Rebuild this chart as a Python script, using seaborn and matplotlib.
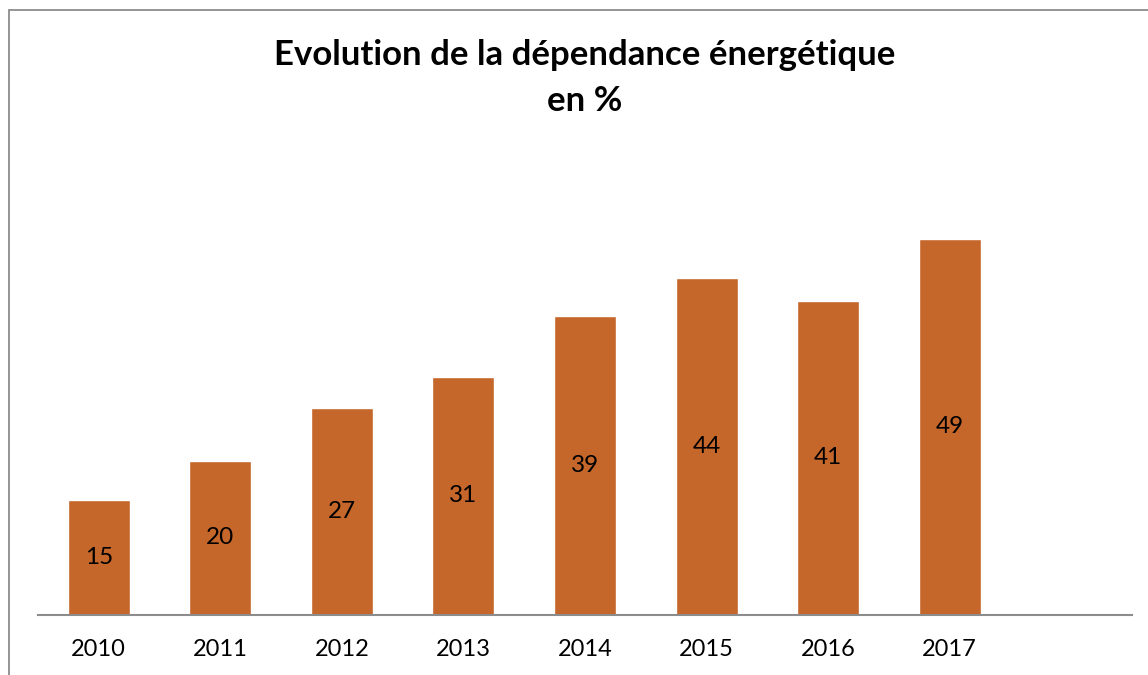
import matplotlib
matplotlib.use("Agg")
import matplotlib.pyplot as plt
import matplotlib.patches as mpatches
import seaborn as sns
import pandas as pd

years = ["2010", "2011", "2012", "2013", "2014", "2015", "2016", "2017"]
dependance = [15, 20, 27, 31, 39, 44, 41, 49]

title_line1 = "Evolution de la dépendance énergétique"
title_line2 = "en %"

bar_color = "#C5662A"
axis_color = "#8C8C8C"

sns.set_theme(style="white")
plt.rcParams["font.family"] = ["Lato", "DejaVu Sans"]

W, H = 1148, 675
fig = plt.figure(figsize=(W / 100, H / 100), dpi=100)

# outer chart frame (left, top edges visible)
frame = mpatches.Rectangle((9 / W, -0.1), 1.2, 1.1 - 10 / H, transform=fig.transFigure,
                           fill=False, edgecolor=axis_color, linewidth=1.3)
fig.patches.append(frame)

left, right = 38 / W, 1132 / W
bottom = 1 - 614.5 / H
top = 1 - 155 / H
ax = fig.add_axes([left, bottom, right - left, top - bottom])

df = pd.DataFrame({"annee": years, "valeur": dependance})
sns.barplot(data=df, x="annee", y="valeur", color=bar_color, saturation=1,
            width=0.51, ax=ax)

ax.set_xlim(-0.5, len(years) + 0.5)
ax.set_ylim(0, 60)
ax.set_xlabel("")
ax.set_ylabel("")
ax.set_yticks([])
for s in ["top", "right", "left"]:
    ax.spines[s].set_visible(False)
ax.spines["bottom"].set_color(axis_color)
ax.spines["bottom"].set_linewidth(1.5)
ax.tick_params(axis="x", length=0, pad=18, labelsize=17, labelcolor="black")
ax.patch.set_alpha(0)

for i, v in enumerate(dependance):
    ax.text(i, v / 2, f"{v}", ha="center", va="center", fontsize=17.5, color="black")

fig.text(0.5096, 1 - 55 / H, title_line1, ha="center", va="center",
         fontsize=25, fontweight="bold", color="black")
fig.text(0.5096, 1 - 101 / H, title_line2, ha="center", va="center",
         fontsize=25, fontweight="bold", color="black")

fig.savefig("out.png", dpi=100, facecolor="white")
